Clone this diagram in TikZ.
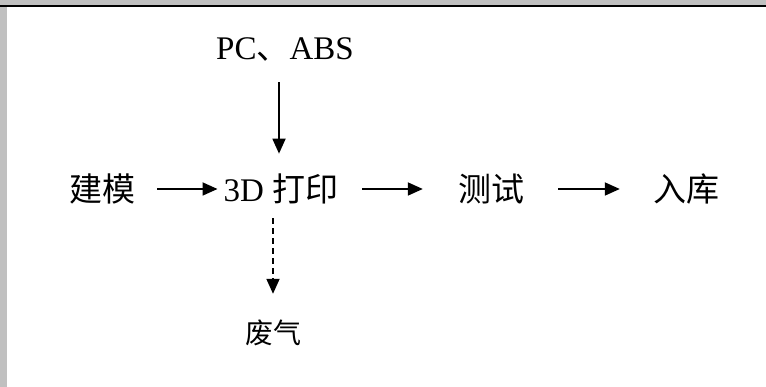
\documentclass[tikz,border=0pt]{standalone}
\usepackage{fontspec}
\setmainfont{Liberation Serif}
\newfontfamily\cjk{Noto Sans CJK SC}
\usetikzlibrary{arrows.meta}
\definecolor{frame}{RGB}{192,192,192}

\begin{document}
\begin{tikzpicture}[x=1pt,y=-1pt,>={Triangle[length=15pt,width=13pt]},
	every node/.style={inner sep=0pt,font=\fontsize{33}{36}\selectfont},
	go/.style={->,line width=1.8pt}]
\useasboundingbox (0,0) rectangle (766,387);
\fill [frame] (0,0) rectangle (766,6);
\fill [frame] (0,6) rectangle (7,387);
\draw [line width=2pt] (0,6) -- (766,6);
	\node (PC) at (285,50) {PC{\cjk 、}ABS};
	\node (JM) at (102,189) {\cjk 建模};
	\node (DY) at (281,189) {3D {\cjk 打印}};
\node (CS) at (491,189) {\cjk 测试};
\node (RK) at (686,189) {\cjk 入库};
\node (FQ) at (273,333) [font=\cjk\fontsize{28}{30}\selectfont] {废气};
\draw [go,shorten <=22pt,shorten >=6pt] (JM) -- (DY);
\draw [go,shorten <=24pt,shorten >=35pt] (DY) -- (CS);
\draw [go,shorten <=34pt,shorten >=33pt] (CS) -- (RK);
\draw [go,shorten <=20pt,shorten >=20pt] ([xshift=-6pt]PC.south) -- ([xshift=-2pt]DY.north);
\draw [go,dashed,dash pattern=on 6pt off 4pt,shorten <=14pt,shorten >=26pt] ([xshift=-8pt]DY.south) -- (FQ.north);
\end{tikzpicture}
\end{document}
